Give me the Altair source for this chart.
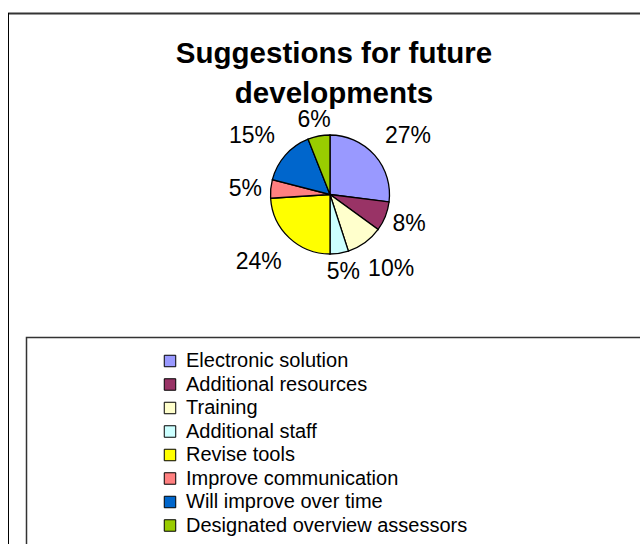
import altair as alt
import pandas as pd

categories = [
    "Electronic solution",
    "Additional resources",
    "Training",
    "Additional staff",
    "Revise tools",
    "Improve communication",
    "Will improve over time",
    "Designated overview assessors",
]
values = [27, 8, 10, 5, 24, 5, 15, 6]
colors = ["#9999FF", "#993366", "#FFFFCC", "#CCFFFF", "#FFFF00", "#FF8080", "#0066CC", "#99CC00"]
title_lines = ["Suggestions for future", "developments"]

df = pd.DataFrame({
    "category": categories,
    "value": values,
    "idx": list(range(len(categories))),
    "label": [f"{v}%" for v in values],
})
dummy = pd.DataFrame({"a": [0]})

FONT = "Liberation Sans"
CX, CY = 330, 194.5

frame_top = alt.Chart(dummy).mark_rule(color="#333333", strokeWidth=2).encode(
    x=alt.value(8), x2=alt.value(640), y=alt.value(13.5)
)
frame_left = alt.Chart(dummy).mark_rule(color="black", strokeWidth=1).encode(
    x=alt.value(8.5), y=alt.value(13), y2=alt.value(544)
)
legend_box = alt.Chart(dummy).mark_rect(fill="white", stroke="#333333", strokeWidth=1.5).encode(
    x=alt.value(26.5), x2=alt.value(660), y=alt.value(337.5), y2=alt.value(580)
)

base = alt.Chart(df)

pie = base.mark_arc(outerRadius=59.5, stroke="black", strokeWidth=1.3).encode(
    theta=alt.Theta("value:Q", stack=True),
    order=alt.Order("idx:Q"),
    color=alt.Color(
        "category:N",
        scale=alt.Scale(domain=categories, range=colors),
        sort=categories,
        legend=alt.Legend(
            orient="none",
            legendX=160,
            legendY=351,
            title=None,
            labelFontSize=20,
            labelFont=FONT,
            labelColor="black",
            symbolType="square",
            symbolSize=132,
            symbolStrokeColor="black",
            symbolStrokeWidth=1,
            rowPadding=3.5,
            labelOffset=6,
            padding=0,
            labelLimit=500,
        ),
    ),
    x=alt.value(CX),
    y=alt.value(CY),
)

# label placement: elliptical offset around the slice mid-angle, wider for longer labels
labels = (
    base.transform_joinaggregate(total="sum(value)")
    .transform_window(cum="sum(value)", sort=[alt.SortField("idx")], frame=[None, 0])
    .transform_calculate(mid="(datum.cum - datum.value/2)/datum.total*2*PI")
    .transform_calculate(
        ox="sin(datum.mid)*(47 + 19*length(datum.label))",
        oy="cos(datum.mid)*(51 + 13*length(datum.label))",
    )
    .transform_calculate(
        lt="atan2(datum.ox, datum.oy)",
        lr="sqrt(datum.ox*datum.ox + datum.oy*datum.oy)",
    )
    .mark_text(fontSize=23, font=FONT, align="center", baseline="middle", color="black", dy=1.5)
    .encode(
        theta=alt.Theta("lt:Q", scale=None, stack=False),
        radius=alt.Radius("lr:Q", scale=None),
        text="label:N",
        x=alt.value(CX),
        y=alt.value(CY),
    )
)

title = alt.Chart(dummy).mark_text(
    text=title_lines,
    fontSize=29.5,
    fontWeight="bold",
    font=FONT,
    lineHeight=40,
    align="center",
    baseline="alphabetic",
    color="black",
).encode(x=alt.value(334), y=alt.value(63))

chart = (
    alt.layer(frame_top, frame_left, legend_box, pie, labels, title)
    .properties(width=640, height=544, autosize="none", padding=0, background="white")
    .configure_view(stroke=None)
)

chart.save("out.html", embed_options={"renderer": "svg", "actions": False})
